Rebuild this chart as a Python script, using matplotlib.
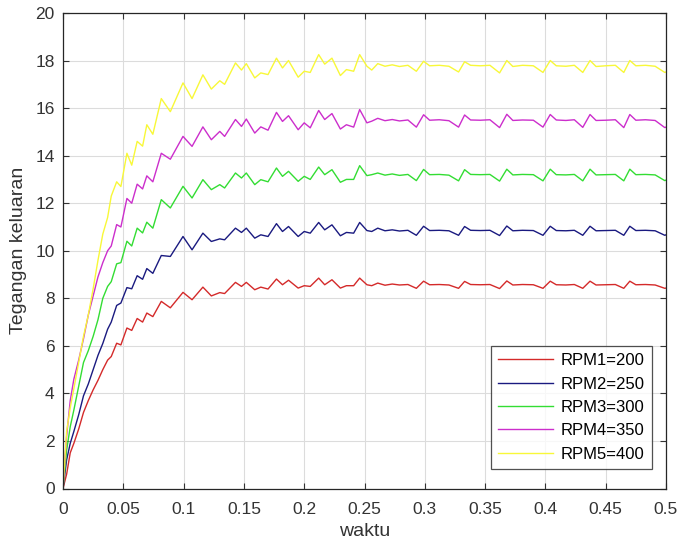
import matplotlib
matplotlib.use("Agg")
import matplotlib.pyplot as plt

plt.rcParams['font.family'] = ['Liberation Sans', 'DejaVu Sans']

# shared time axis (s)
t = [0, 0.003, 0.006, 0.009, 0.013, 0.017, 0.021, 0.025, 0.029, 0.033, 0.037,
     0.040, 0.0445, 0.048, 0.053, 0.057, 0.0615, 0.066, 0.0695, 0.0745, 0.0815,
     0.089, 0.0995, 0.107, 0.116, 0.123, 0.130, 0.134, 0.143, 0.148, 0.152,
     0.159, 0.164, 0.170, 0.177, 0.182, 0.187, 0.195, 0.200, 0.205, 0.212,
     0.217, 0.223, 0.230, 0.235, 0.241, 0.246, 0.252, 0.256, 0.261,
     0.267, 0.273, 0.279, 0.286, 0.293, 0.299, 0.304, 0.312, 0.320, 0.328,
     0.333, 0.338, 0.346, 0.354, 0.362, 0.368, 0.373, 0.381, 0.390, 0.398,
     0.404, 0.409, 0.417, 0.424, 0.431, 0.437, 0.442, 0.450, 0.458, 0.465,
     0.470, 0.475, 0.483, 0.491, 0.499, 0.500]

rpm1 = [0, 0.6, 1.5, 1.9, 2.5, 3.2, 3.7, 4.15, 4.55, 5.0, 5.4,
        5.55, 6.11, 6.04, 6.75, 6.65, 7.15, 7.0, 7.38, 7.23, 7.87,
        7.6, 8.25, 7.94, 8.47, 8.1, 8.24, 8.2, 8.67, 8.5, 8.67,
        8.36, 8.47, 8.39, 8.81, 8.57, 8.76, 8.43, 8.53, 8.5, 8.85,
        8.57, 8.78, 8.43, 8.53, 8.53, 8.85, 8.57, 8.53, 8.64,
        8.55, 8.6, 8.56, 8.58, 8.42, 8.72, 8.57, 8.58, 8.56, 8.42,
        8.71, 8.58, 8.57, 8.58, 8.41, 8.73, 8.56, 8.58, 8.57, 8.42,
        8.72, 8.57, 8.56, 8.58, 8.42, 8.72, 8.56, 8.57, 8.58, 8.42,
        8.72, 8.57, 8.58, 8.56, 8.42, 8.43]

rpm2 = [0, 1.2, 1.9, 2.4, 3.1, 3.9, 4.4, 5.0, 5.6, 6.1, 6.7,
        7.0, 7.7, 7.8, 8.45, 8.4, 8.95, 8.8, 9.25, 9.05, 9.8,
        9.76, 10.6, 10.04, 10.74, 10.39, 10.5, 10.46, 10.95, 10.77, 10.95,
        10.53, 10.67, 10.6, 11.14, 10.81, 11.02, 10.6, 10.81, 10.74, 11.19,
        10.88, 11.09, 10.63, 10.77, 10.74, 11.19, 10.85, 10.81, 10.95,
        10.84, 10.88, 10.83, 10.86, 10.65, 11.03, 10.85, 10.86, 10.84, 10.65,
        11.02, 10.86, 10.85, 10.86, 10.64, 11.04, 10.84, 10.86, 10.85, 10.65,
        11.03, 10.85, 10.84, 10.86, 10.65, 11.03, 10.84, 10.85, 10.86, 10.65,
        11.03, 10.85, 10.86, 10.84, 10.65, 10.67]

rpm3 = [0, 1.6, 2.6, 3.3, 4.3, 5.3, 5.8, 6.4, 7.1, 8.0, 8.5,
        8.7, 9.45, 9.5, 10.4, 10.2, 10.95, 10.75, 11.2, 10.95, 12.15,
        11.8, 12.71, 12.22, 12.99, 12.57, 12.78, 12.64, 13.27, 13.06, 13.27,
        12.78, 12.99, 12.9, 13.48, 13.13, 13.34, 12.92, 13.13, 13.0, 13.52,
        13.2, 13.41, 12.88, 13.0, 13.0, 13.58, 13.16, 13.2, 13.27,
        13.18, 13.23, 13.17, 13.21, 12.95, 13.42, 13.2, 13.21, 13.18, 12.94,
        13.41, 13.21, 13.2, 13.21, 12.93, 13.43, 13.19, 13.21, 13.2, 12.94,
        13.43, 13.2, 13.19, 13.21, 12.94, 13.43, 13.19, 13.2, 13.21, 12.94,
        13.43, 13.2, 13.21, 13.19, 12.95, 12.97]

rpm4 = [0, 2.2, 3.7, 4.6, 5.4, 6.3, 7.3, 8.1, 8.9, 9.5, 10.0,
        10.2, 11.1, 11.0, 12.2, 12.0, 12.8, 12.6, 13.15, 12.9, 14.1,
        13.85, 14.81, 14.39, 15.21, 14.67, 15.02, 14.81, 15.52, 15.23, 15.54,
        14.95, 15.21, 15.07, 15.82, 15.44, 15.68, 15.09, 15.38, 15.17, 15.9,
        15.52, 15.77, 15.12, 15.3, 15.2, 15.94, 15.38, 15.45, 15.57,
        15.47, 15.52, 15.46, 15.5, 15.2, 15.72, 15.49, 15.51, 15.47, 15.2,
        15.71, 15.5, 15.49, 15.51, 15.18, 15.74, 15.48, 15.5, 15.49, 15.2,
        15.73, 15.5, 15.48, 15.51, 15.19, 15.73, 15.48, 15.49, 15.51, 15.18,
        15.73, 15.49, 15.51, 15.48, 15.18, 15.2]

rpm5 = [0, 2.4, 3.4, 4.2, 5.3, 6.4, 7.3, 8.4, 9.6, 10.7, 11.4,
        12.3, 12.9, 12.7, 14.1, 13.6, 14.6, 14.4, 15.3, 14.9, 16.4,
        15.85, 17.06, 16.4, 17.4, 16.8, 17.15, 17.0, 17.9, 17.6, 17.87,
        17.27, 17.48, 17.41, 18.1, 17.69, 18.0, 17.3, 17.55, 17.5, 18.25,
        17.85, 18.1, 17.37, 17.62, 17.55, 18.25, 17.76, 17.6, 17.87,
        17.76, 17.82, 17.75, 17.8, 17.55, 17.97, 17.78, 17.8, 17.76, 17.52,
        17.95, 17.8, 17.78, 17.8, 17.48, 18.0, 17.75, 17.8, 17.78, 17.5,
        18.0, 17.78, 17.76, 17.8, 17.5, 18.0, 17.75, 17.78, 17.8, 17.5,
        18.0, 17.78, 17.8, 17.76, 17.5, 17.52]

labels = ['RPM1=200', 'RPM2=250', 'RPM3=300', 'RPM4=350', 'RPM5=400']
colors = ['#D42A2A', '#1A1A80', '#33DD33', '#CC2ECC', '#F8F838']

x_ticks = [0, 0.05, 0.1, 0.15, 0.2, 0.25, 0.3, 0.35, 0.4, 0.45, 0.5]
x_ticklabels = ['0', '0.05', '0.1', '0.15', '0.2', '0.25', '0.3', '0.35', '0.4', '0.45', '0.5']
y_ticks = [0, 2, 4, 6, 8, 10, 12, 14, 16, 18, 20]

fig = plt.figure(figsize=(6.81, 5.48), dpi=100)
ax = fig.add_axes([63/681, 1 - 488.5/548, (666 - 63)/681, (488.5 - 13)/548])

series = [rpm1, rpm2, rpm3, rpm4, rpm5]
for ys, lab, col in zip(series, labels, colors):
    ax.plot(t, ys, color=col, lw=1.0, label=lab)

ax.set_xlim(0, 0.5)
ax.set_ylim(0, 20)
ax.set_xticks(x_ticks)
ax.set_xticklabels(x_ticklabels)
ax.set_yticks(y_ticks)
ax.grid(True, color='#DCDCDC', lw=0.8)
ax.set_axisbelow(True)
ax.tick_params(direction='in', top=True, right=True, length=4, width=0.8,
               labelsize=12.5, colors='#333333')
ax.tick_params(axis='x', pad=10)
ax.tick_params(axis='y', pad=6)
for s in ax.spines.values():
    s.set_color('#262626')
    s.set_linewidth(0.9)

ax.set_xlabel('waktu', fontsize=14, color='#333333', labelpad=4)
ax.set_ylabel('Tegangan keluaran', fontsize=14, color='#333333', labelpad=6)

leg = ax.legend(loc='upper left', bbox_to_anchor=(490.7/681, 1 - 345.7/548),
                bbox_transform=fig.transFigure, fontsize=12, frameon=True,
                fancybox=False, edgecolor='#262626', handlelength=3.3,
                borderpad=0.45, labelspacing=0.5, handletextpad=0.45,
                borderaxespad=0)
leg.get_frame().set_linewidth(0.9)

fig.savefig('out.png', dpi=100)
